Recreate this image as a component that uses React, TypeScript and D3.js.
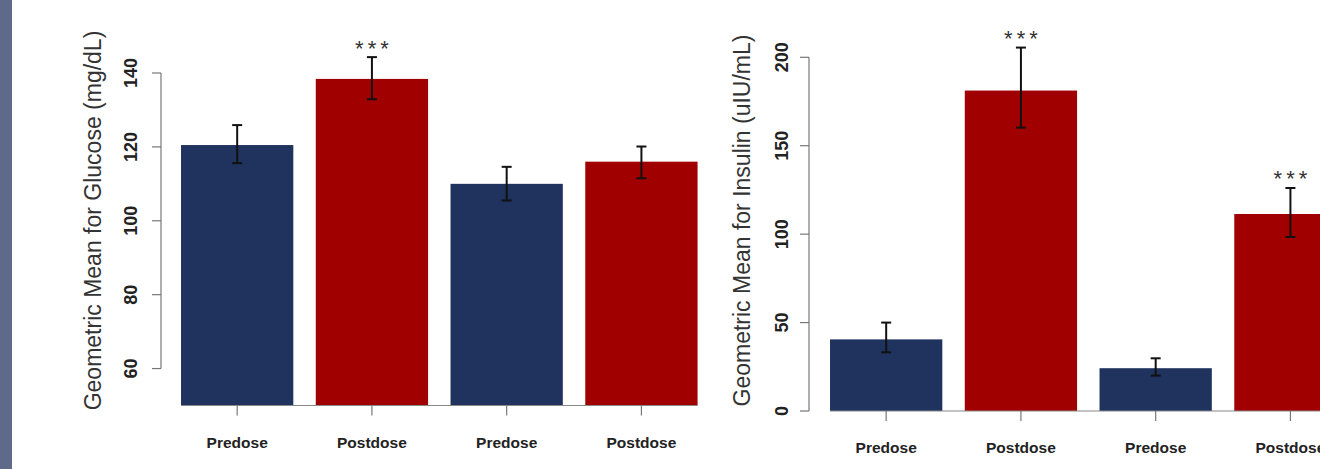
import React from 'react';
import * as d3 from 'd3';

// reference values
const categories = ['Predose', 'Postdose', 'Predose', 'Postdose'];
const groupKind = ['pre', 'post', 'pre', 'post'];

const glucoseMean = [120.5, 138.4, 110.0, 116.0];
const glucoseLow = [115.6, 132.9, 105.5, 111.5];
const glucoseHigh = [125.9, 144.3, 114.6, 120.1];
const glucoseStars = ['', '***', '', ''];
const glucoseTicks = [60, 80, 100, 120, 140];

const insulinMean = [40.5, 181.2, 24.2, 111.4];
const insulinLow = [33.2, 160.2, 20.0, 98.4];
const insulinHigh = [50.0, 205.5, 29.8, 126.1];
const insulinStars = ['', '***', '', '***'];
const insulinTicks = [0, 50, 100, 150, 200];

const colors = { pre: '#1f335e', post: '#a10000' };
const FONT = '"Liberation Sans", Arial, Helvetica, sans-serif';

type PanelProps = {
  title: string;
  mean: number[];
  low: number[];
  high: number[];
  stars: string[];
  ticks: number[];
  yDomain: [number, number];
  yRange: [number, number];
  axisX: number;
  xStart: number;
  titleX: number;
  tickLabelX: number;
  labelY: number;
};

const Panel = (p: PanelProps) => {
  const y = d3.scaleLinear().domain(p.yDomain).range(p.yRange);
  const x = d3
    .scaleBand<number>()
    .domain(d3.range(categories.length))
    .range([p.xStart, p.xStart + 539])
    .paddingInner(1 / 6)
    .paddingOuter(1 / 12);
  const bw = x.bandwidth();
  const base = y(p.yDomain[0]);
  const first = x(0)!;
  const last = x(categories.length - 1)! + bw;
  const t0 = y(p.ticks[0]);
  const t1 = y(p.ticks[p.ticks.length - 1]);
  const midY = 220.5;

  return (
    <g>
      {/* y axis title */}
      <text
        transform={`translate(${p.titleX},${midY}) rotate(-90)`}
        textAnchor="middle"
        fontFamily={FONT}
        fontSize={23}
        fill="#333"
      >
        {p.title}
      </text>

      {/* y axis */}
      <line x1={p.axisX} x2={p.axisX} y1={t0} y2={t1} stroke="#777" strokeWidth={1.2} />
      {p.ticks.map((t) => (
        <g key={t}>
          <line x1={p.axisX - 9} x2={p.axisX} y1={y(t)} y2={y(t)} stroke="#777" strokeWidth={1.2} />
          <text
            transform={`translate(${p.tickLabelX},${y(t)}) rotate(-90)`}
            textAnchor="middle"
            fontFamily={FONT}
            fontSize={18}
            fontWeight="bold"
            fill="#222"
          >
            {t}
          </text>
        </g>
      ))}

      {/* bars */}
      {categories.map((c, i) => (
        <rect
          key={'b' + i}
          x={x(i)!}
          y={y(p.mean[i])}
          width={bw}
          height={base - y(p.mean[i])}
          fill={colors[groupKind[i] as 'pre' | 'post']}
        />
      ))}

      {/* baseline */}
      <line x1={first} x2={last} y1={base} y2={base} stroke="#888" strokeWidth={1.2} />

      {/* error bars */}
      {categories.map((c, i) => {
        const cx = x(i)! + bw / 2;
        return (
          <g key={'e' + i} stroke="#111" strokeWidth={2}>
            <line x1={cx} x2={cx} y1={y(p.high[i])} y2={y(p.low[i])} />
            <line x1={cx - 5} x2={cx + 5} y1={y(p.high[i])} y2={y(p.high[i])} />
            <line x1={cx - 5} x2={cx + 5} y1={y(p.low[i])} y2={y(p.low[i])} />
          </g>
        );
      })}

      {/* significance stars */}
      {categories.map((c, i) =>
        p.stars[i] ? (
          <text
            key={'s' + i}
            x={x(i)! + bw / 2 + 2}
            y={y(p.high[i]) - 14 + 12.5}
            textAnchor="middle"
            fontFamily={FONT}
            fontSize={22}
            letterSpacing={4}
            fill="#333"
          >
            {p.stars[i]}
          </text>
        ) : null
      )}

      {/* x ticks and labels */}
      {categories.map((c, i) => {
        const cx = x(i)! + bw / 2;
        return (
          <g key={'x' + i}>
            <line x1={cx} x2={cx} y1={base} y2={base + 10} stroke="#777" strokeWidth={1.2} />
            <text
              x={cx}
              y={p.labelY}
              textAnchor="middle"
              fontFamily={FONT}
              fontSize={15.5}
              fontWeight="bold"
              fill="#222"
            >
              {c}
            </text>
          </g>
        );
      })}
    </g>
  );
};

export default function App() {
  return (
    <svg
      width={1320}
      height={469}
      style={{ position: 'absolute', left: 0, top: 0, background: '#fff' }}
    >
      <rect x={0} y={0} width={12} height={469} fill="#5f6989" />
      <Panel
        title="Geometric Mean for Glucose (mg/dL)"
        mean={glucoseMean}
        low={glucoseLow}
        high={glucoseHigh}
        stars={glucoseStars}
        ticks={glucoseTicks}
        yDomain={[50, 140]}
        yRange={[405.5, 73]}
        axisX={161}
        xStart={169.8}
        titleX={101}
        tickLabelX={137}
        labelY={448}
      />
      <Panel
        title="Geometric Mean for Insulin (uIU/mL)"
        mean={insulinMean}
        low={insulinLow}
        high={insulinHigh}
        stars={insulinStars}
        ticks={insulinTicks}
        yDomain={[0, 200]}
        yRange={[411, 57.3]}
        axisX={809}
        xStart={818.8}
        titleX={750}
        tickLabelX={788}
        labelY={453}
      />
    </svg>
  );
}
